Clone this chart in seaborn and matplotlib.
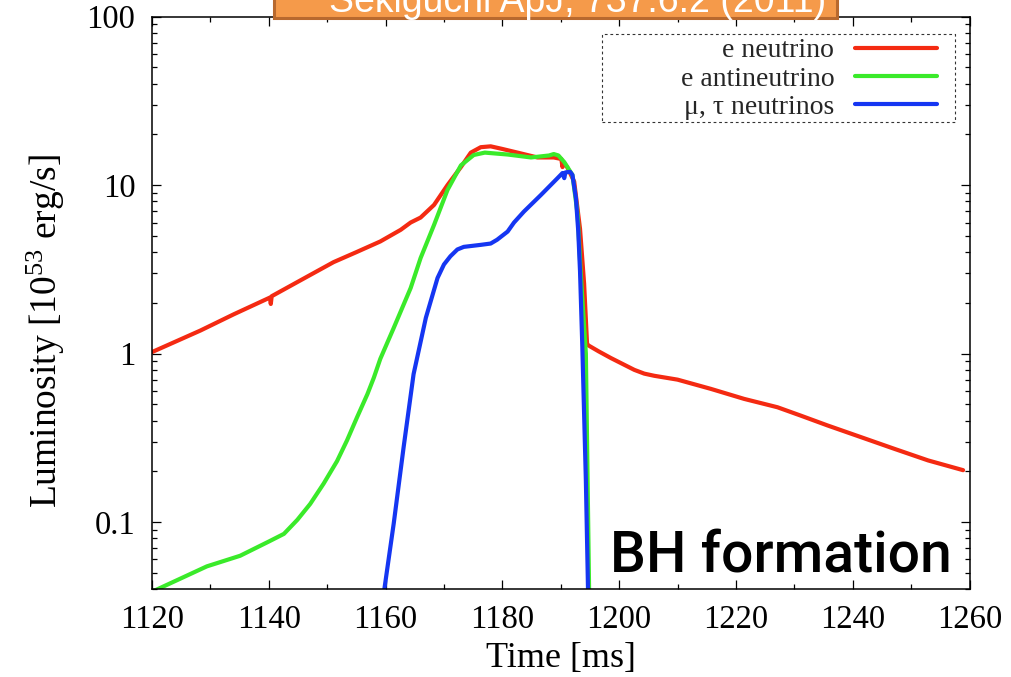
import numpy as np
import pandas as pd
import seaborn as sns
import matplotlib
matplotlib.use("Agg")
import matplotlib.pyplot as plt
from matplotlib.patches import Rectangle
from matplotlib.ticker import FixedLocator, MultipleLocator, LogLocator, NullFormatter

# ---- neutrino luminosity curves (time in ms, luminosity in 1e53 erg/s) ----
t_nue = [1120, 1128.3, 1134, 1140.2, 1140.35, 1140.5, 1146, 1151.1, 1155, 1159.1,
         1162.6, 1164.3, 1166, 1168.3, 1170.6, 1172.9, 1174.6, 1176.3, 1178, 1180,
         1182.6, 1186, 1188.8, 1190.1, 1190.3, 1190.5, 1191.1, 1192.3, 1193.3, 1194.0,
         1194.5, 1194.7, 1196.5, 1198.6, 1202.6, 1204.3, 1206, 1210, 1215.7, 1221.4,
         1227.1, 1231.1, 1235.7, 1241.4, 1247.1, 1252.9, 1258.9]
L_nue = [1.02, 1.37, 1.71, 2.15, 1.97, 2.19, 2.79, 3.49, 4.0, 4.63,
         5.43, 6.0, 6.42, 7.63, 10.0, 12.8, 15.6, 16.8, 17.0, 16.4,
         15.6, 14.6, 14.6, 14.3, 12.8, 13.6, 12.8, 10.5, 5.5, 2.6,
         1.15, 1.12, 1.03, 0.94, 0.80, 0.76, 0.738, 0.70, 0.617, 0.538,
         0.48, 0.428, 0.374, 0.319, 0.272, 0.232, 0.203]

t_anue = [1120, 1129.4, 1135.1, 1140, 1142.6, 1144.9, 1147.1, 1149.4, 1151.7, 1153.4,
          1155.1, 1156.9, 1158, 1159.1, 1161.4, 1164.3, 1166, 1168.3, 1170.6, 1172.9,
          1175.1, 1177, 1180.9, 1184.9, 1188.0, 1188.8, 1189.6, 1190.6, 1192.0, 1192.9,
          1193.4, 1194.3, 1194.9]
L_anue = [0.0385, 0.0545, 0.063, 0.0765, 0.085, 0.103, 0.128, 0.169, 0.23, 0.305,
          0.417, 0.575, 0.72, 0.93, 1.42, 2.45, 3.69, 5.8, 9.35, 13.1,
          15.1, 15.6, 15.2, 14.6, 15.0, 15.3, 15.0, 13.7, 11.5, 6.66,
          3.08, 1.0, 0.03]

t_nux = [1159.5, 1159.8, 1161.4, 1163.1, 1164.8, 1166.9, 1168.9, 1170.0, 1171.1, 1172.3,
         1173.4, 1176.3, 1178, 1179.1, 1180.9, 1182.0, 1183.7, 1186.6, 1189.4, 1190.3,
         1190.6, 1190.8, 1191.6, 1192.0, 1192.6, 1193.0, 1193.3, 1193.7, 1194.3, 1194.7]
L_nux = [0.035, 0.04, 0.098, 0.279, 0.755, 1.63, 2.81, 3.38, 3.78, 4.15,
         4.3, 4.42, 4.5, 4.74, 5.3, 6.0, 6.97, 8.74, 10.96, 11.8,
         11.0, 11.9, 12.0, 11.5, 8.35, 5.3, 3.08, 1.08, 0.177, 0.035]

series_labels = ["e neutrino", "e antineutrino", "\u03bc, \u03c4 neutrinos"]
series_colors = ["#f42a12", "#3aea2a", "#1536f2"]

y_ticks = [0.1, 1, 10, 100]
y_tick_labels = ["0.1", "1", "10", "100"]
x_ticks = [1120, 1140, 1160, 1180, 1200, 1220, 1240, 1260]

sns.set_theme(style="ticks")
plt.rcParams["font.family"] = ["Liberation Serif", "DejaVu Serif"]
plt.rcParams["mathtext.default"] = "regular"

fig = plt.figure(figsize=(10.11, 6.77), dpi=100)
ax = fig.add_axes([0.1503, 0.130, 0.8087, 0.8453])

curves = [(t_nue, L_nue), (t_anue, L_anue), (t_nux, L_nux)]
for (t, L), lab, col in zip(curves, series_labels, series_colors):
    df = pd.DataFrame({"t": t, "L": L})
    sns.lineplot(data=df, x="t", y="L", ax=ax, color=col, lw=3.0, label=lab,
                 sort=False, estimator=None)

ax.set_yscale("log")
ax.set_xlim(1120, 1260)
ax.set_ylim(0.04, 100)
ax.xaxis.set_major_locator(FixedLocator(x_ticks))
ax.xaxis.set_minor_locator(MultipleLocator(10))
ax.yaxis.set_major_locator(FixedLocator(y_ticks))
ax.set_yticklabels(y_tick_labels)
ax.yaxis.set_minor_locator(LogLocator(base=10, subs=np.arange(2, 10)))
ax.yaxis.set_minor_formatter(NullFormatter())
ax.set_xticklabels([str(v) for v in x_ticks])

ax.tick_params(which="both", direction="in", top=True, right=True, color="black",
               width=0.9, labelsize=23.5, labelcolor="black")
ax.tick_params(which="major", length=6.5)
ax.tick_params(which="minor", length=3.6)
ax.tick_params(axis="x", which="major", pad=11)
ax.tick_params(axis="y", which="major", pad=12)
for s in ax.spines.values():
    s.set_visible(True)
    s.set_color("black")
    s.set_linewidth(1.1)

ax.set_xlabel("Time [ms]", fontsize=26, color="black")
ax.set_ylabel("Luminosity [10$^{53}$ erg/s]", fontsize=27, color="black")
ax.xaxis.set_label_coords(0.5, -0.092)
ax.yaxis.set_label_coords(-0.104, 0.45)

leg = ax.legend(loc="upper right", bbox_to_anchor=(0.9602, 0.963), borderaxespad=0,
                markerfirst=False, fontsize=20, handlelength=2.95, handletextpad=0.75,
                labelspacing=0.1, borderpad=0.0, frameon=False)
for line in leg.get_lines():
    line.set_linewidth(3.0)

# dashed key box
key_box = Rectangle((0.5505, 0.816), 0.4318, 0.1538, transform=ax.transAxes,
                    fill=False, edgecolor="#333333", linewidth=0.8,
                    linestyle=(0, (2.5, 2.5)), zorder=4)
ax.add_patch(key_box)

ax.text(0.9786, 0.0297, "BH formation", transform=ax.transAxes, ha="right",
        va="baseline", fontsize=41, color="black", family=["Roboto", "DejaVu Sans"],
        fontweight="medium")

# citation banner along the top edge
banner = Rectangle((274 / 1011, 1 - 18 / 677), (837 - 274) / 1011, 0.06,
                   transform=fig.transFigure, facecolor="#f59a4a",
                   edgecolor="#b8692e", linewidth=2.2, zorder=5)
fig.add_artist(banner)
fig.text(578 / 1011, 1 - 11.5 / 677, "Sekiguchi ApJ, 737:6.2 (2011)", ha="center",
         va="baseline", fontsize=27, color="white",
         family=["Liberation Sans", "DejaVu Sans"], zorder=6)

fig.savefig("out.png", dpi=100)
